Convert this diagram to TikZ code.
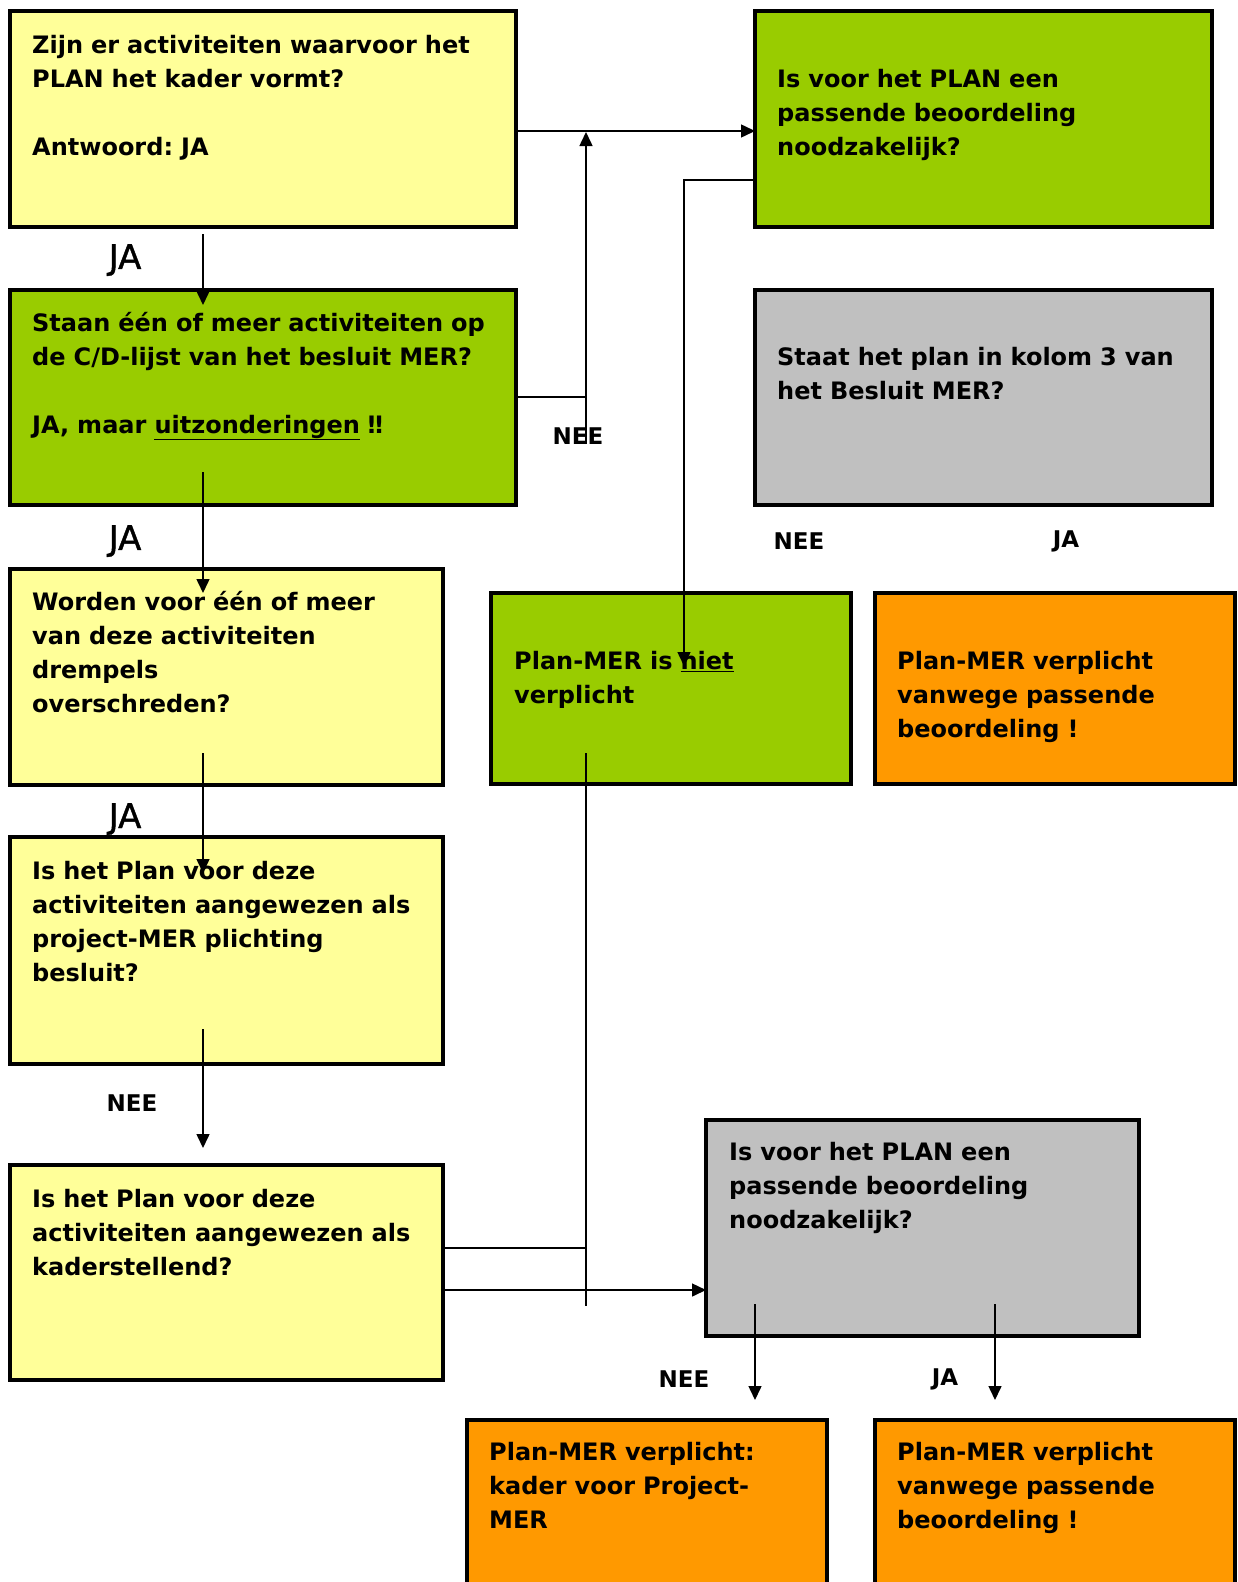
\documentclass[tikz,border=0pt]{standalone}
\usepackage{fontspec}
\setmainfont{DejaVu Sans}
\newfontfamily\jafont[FakeBold=1.2]{DejaVu Sans}
\frenchspacing
\usetikzlibrary{arrows.meta}
\definecolor{cyel}{HTML}{FFFF99}
\definecolor{cgrn}{HTML}{99CC00}
\definecolor{cgry}{HTML}{C0C0C0}
\definecolor{corg}{HTML}{FF9900}
\tikzset{
  box/.style={draw=black, line width=3.5pt, anchor=north west, inner sep=0pt, outer sep=0pt},
  txt/.style={anchor=base west, text width=640pt, align=left, inner sep=0pt,
              font=\frenchspacing\bfseries\fontsize{24}{34}\selectfont},
  lbig/.style={inner sep=0pt, font=\jafont\fontsize{34}{38}\selectfont},
  lsml/.style={inner sep=0pt, font=\bfseries\fontsize{23}{28}\selectfont},
  ln/.style={line width=1.5pt},
  arr/.style={line width=1.5pt, -{Triangle[length=14pt,width=13pt]}},
}
\begin{document}
\begin{tikzpicture}[x=1pt,y=-1pt]
\useasboundingbox (0,0) rectangle (1238,1582);
\fill[white] (0,0) rectangle (1238,1582);

% boxes
\node[box, fill=cyel, minimum width=506pt, minimum height=216pt] (A) at (10,11) {};
\node[box, fill=cgrn, minimum width=506pt, minimum height=215pt] (B) at (10,290) {};
\node[box, fill=cyel, minimum width=433pt, minimum height=216pt] (C) at (10,569) {};
\node[box, fill=cyel, minimum width=433pt, minimum height=227pt] (D) at (10,837) {};
\node[box, fill=cyel, minimum width=433pt, minimum height=215pt] (E) at (10,1165) {};
\node[box, fill=cgrn, minimum width=457pt, minimum height=216pt] (F) at (755,11) {};
\node[box, fill=cgry, minimum width=457pt, minimum height=215pt] (G) at (755,290) {};
\node[box, fill=cgrn, minimum width=360pt, minimum height=191pt] (H) at (491,593) {};
\node[box, fill=corg, minimum width=360pt, minimum height=191pt] (I) at (875,593) {};
\node[box, fill=cgry, minimum width=433pt, minimum height=216pt] (J) at (706,1120) {};
\node[box, fill=corg, minimum width=360pt, minimum height=200pt] (K) at (467,1420) {};
\node[box, fill=corg, minimum width=360pt, minimum height=200pt] (L) at (875,1420) {};

% texts
\node[txt] (tA) at (32,53) {Zijn er activiteiten waarvoor het\\PLAN het kader vormt?\\\mbox{}\\Antwoord: JA};
\node[txt] (tB) at (32,331) {Staan één of meer activiteiten op\\de C/D-lijst van het besluit MER?\\\mbox{}\\JA, maar \underline{uitzonderingen} ‼};
\node[txt] (tC) at (32,610) {Worden voor één of meer\\van deze activiteiten\\drempels\\overschreden?};
\node[txt] (tD) at (32,879) {Is het Plan voor deze\\activiteiten aangewezen als\\project-MER plichting\\besluit?};
\node[txt] (tE) at (32,1207) {Is het Plan voor deze\\activiteiten aangewezen als\\kaderstellend?};
\node[txt] (tF) at (777,87) {Is voor het PLAN een\\passende beoordeling\\noodzakelijk?};
\node[txt] (tG) at (777,365) {Staat het plan in kolom 3 van\\het Besluit MER?};
\node[txt] (tH) at (514,669) {Plan-MER is \underline{niet}\\verplicht};
\node[txt] (tI) at (897,669) {Plan-MER verplicht\\vanwege passende\\beoordeling !};
\node[txt] (tJ) at (729,1160) {Is voor het PLAN een\\passende beoordeling\\noodzakelijk?};
\node[txt] (tK) at (489,1460) {Plan-MER verplicht:\\kader voor Project-\\MER};
\node[txt] (tL) at (897,1460) {Plan-MER verplicht\\vanwege passende\\beoordeling !};

% labels
\node[lbig] (l1) at (125,260) {JA};
\node[lbig] (l2) at (125,541) {JA};
\node[lbig] (l3) at (125,819) {JA};
\node[lsml] (l4) at (132,1103) {NEE};
\node[lsml] (l5) at (578,436) {NEE};
\node[lsml] (l6) at (799,541) {NEE};
\node[lsml] (l7) at (1066,541) {JA};
\node[lsml] (l8) at (684,1379) {NEE};
\node[lsml] (l9) at (945,1379) {JA};

% connector points
\coordinate (pA1) at (203,234);  \coordinate (pB1) at (203,305);
\coordinate (pA2) at (516,131);  \coordinate (pF1) at (755,131);
\coordinate (pB2) at (516,397);  \coordinate (q1) at (586,397);
\coordinate (q2) at (586,444);   \coordinate (q3) at (586,132);
\coordinate (pF2) at (755,180);  \coordinate (q4) at (684,180);  \coordinate (pH1) at (684,666);
\coordinate (pB3) at (203,472);  \coordinate (pC1) at (203,593);
\coordinate (pC2) at (203,753);  \coordinate (pD1) at (203,873);
\coordinate (pD2) at (203,1029); \coordinate (pE1) at (203,1148);
\coordinate (pH2) at (586,753);  \coordinate (q5) at (586,1306);
\coordinate (pE2) at (443,1248); \coordinate (q6) at (586,1248);
\coordinate (pE3) at (443,1290); \coordinate (pJ1) at (706,1290);
\coordinate (pJ2) at (755,1304); \coordinate (pK1) at (755,1400);
\coordinate (pJ3) at (995,1304); \coordinate (pL1) at (995,1400);

% connectors
\draw[arr] (pA1) -- (pB1);
\draw[arr] (pA2) -- (pF1);
\draw[ln] (pB2) -- (q1);
\draw[arr] (q2) -- (q3);
\draw[arr] (pF2) -- (q4) -- (pH1);
\draw[arr] (pB3) -- (pC1);
\draw[arr] (pC2) -- (pD1);
\draw[arr] (pD2) -- (pE1);
\draw[ln] (pH2) -- (q5);
\draw[ln] (pE2) -- (q6);
\draw[arr] (pE3) -- (pJ1);
\draw[arr] (pJ2) -- (pK1);
\draw[arr] (pJ3) -- (pL1);
\end{tikzpicture}
\end{document}
